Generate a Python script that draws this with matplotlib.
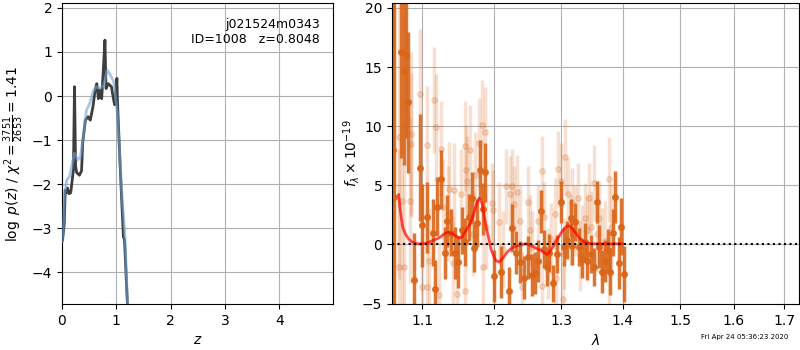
import numpy as np
import matplotlib
matplotlib.use('Agg')
import matplotlib.pyplot as plt
from matplotlib.ticker import FixedLocator, FixedFormatter, NullLocator

# redshift probability curves (left panel)
z_chi = [0.0, 0.01, 0.04, 0.06, 0.08, 0.10, 0.13, 0.16, 0.21, 0.23, 0.25, 0.27, 0.32, 0.36, 0.38,
         0.43, 0.48, 0.52, 0.57, 0.61, 0.64, 0.67, 0.70, 0.73, 0.76, 0.79, 0.81, 0.85, 0.91, 0.95,
         0.97, 1.01, 1.02, 1.07, 1.13, 1.15, 1.21]
logp_chi = [-3.3, -3.27, -2.93, -2.14, -2.2, -2.09, -2.22, -2.2, -1.68, 0.21, -1.6, -1.74, -1.8, -1.7, -1.07,
            -0.55, -0.47, -0.55, -0.24, 0.14, 0.28, -0.06, 0.14, -0.06, 0.59, 1.27, 0.17, 0.28, 0.21, -0.09,
            -0.2, 0.4, -0.1, -1.6, -3.2, -3.27, -4.9]
z_pz = [0.0, 0.02, 0.05, 0.09, 0.14, 0.19, 0.23, 0.29, 0.34, 0.39, 0.45, 0.51, 0.57, 0.63, 0.70,
        0.77, 0.83, 0.89, 0.95, 1.02, 1.10, 1.16, 1.21]
logp_pz = [-3.3, -3.1, -2.2, -1.9, -1.83, -1.53, -1.3, -1.45, -1.38, -0.92, -0.32, -0.17, 0.1, 0.21, 0.17,
           0.25, 0.59, 0.48, 0.33, -0.4, -2.2, -3.2, -4.9]

# spectrum, well-measured pixels (dark)
wave_hi = [1.062, 1.064, 1.0725, 1.076, 1.079, 1.082, 1.097, 1.090, 1.100, 1.107, 1.114, 1.120, 1.125,
           1.117, 1.131, 1.134, 1.139, 1.145, 1.148, 1.154, 1.158, 1.164, 1.168, 1.171, 1.175, 1.179,
           1.183, 1.186, 1.200, 1.209, 1.221, 1.225, 1.231, 1.238, 1.243, 1.249, 1.255, 1.260, 1.264,
           1.269, 1.273, 1.278, 1.281, 1.287, 1.293, 1.300, 1.304, 1.309, 1.315, 1.317, 1.322, 1.328,
           1.333, 1.338, 1.342, 1.347, 1.352, 1.357, 1.360, 1.366, 1.370, 1.375, 1.379, 1.384, 1.388,
           1.394, 1.398, 1.402]
flux_hi = [8.0, 4.0, 16.3, 14.7, 16.0, 12.0, 6.5, -3.0, 1.6, 2.3, 1.0, 3.2, 5.5,
           -3.8, -0.7, 2.0, 1.0, -0.7, -1.5, 1.2, 0.2, 2.3, 3.9, -0.3, 1.8, 6.3,
           3.0, 6.1, -2.7, -2.3, -3.9, 1.4, -0.7, -1.5, -2.8, -1.1, -2.6, -2.4, -1.4,
           2.8, -0.4, -1.9, -0.7, -3.3, -0.8, 3.6, -0.2, 0.4, 2.2, -0.1, 1.9, -0.2,
           -1.2, 0.2, -1.4, -0.8, -1.9, 3.6, -0.2, -2.3, -1.4, -0.5, -2.3, 1.0, 4.0,
           -1.6, 1.5, -2.5]
err_hi = [30.0, 30.0, 9.0, 8.0, 7.0, 6.0, 4.5, 4.0, 3.5, 3.0, 2.8, 2.5, 2.5,
          2.5, 2.2, 2.2, 2.0, 2.2, 2.2, 2.0, 2.0, 2.0, 2.2, 2.0, 2.0, 2.5,
          2.2, 2.5, 2.2, 2.2, 2.0, 2.0, 1.8, 1.8, 1.8, 1.8, 1.8, 1.8, 1.8,
          1.8, 1.6, 1.6, 1.6, 1.6, 1.6, 1.8, 1.6, 1.6, 1.6, 1.6, 1.6, 1.6,
          1.6, 1.6, 1.6, 1.6, 1.6, 1.8, 1.8, 1.8, 1.8, 1.8, 2.0, 2.0, 2.2,
          2.2, 2.4, 2.4]

# spectrum, noisy pixels (faint)
wave_lo = [1.070, 1.070, 1.074, 1.076, 1.084, 1.085, 1.086, 1.097, 1.100, 1.106, 1.107, 1.109, 1.116,
           1.119, 1.122, 1.125, 1.128, 1.135, 1.136, 1.142, 1.143, 1.147, 1.153, 1.158, 1.158, 1.160,
           1.161, 1.165, 1.169, 1.173, 1.178, 1.182, 1.183, 1.186, 1.188, 1.196, 1.198, 1.206, 1.213,
           1.217, 1.222, 1.225, 1.229, 1.233, 1.237, 1.240, 1.249, 1.252, 1.256, 1.264, 1.270, 1.270,
           1.274, 1.280, 1.285, 1.290, 1.292, 1.296, 1.300, 1.303, 1.304, 1.306, 1.311, 1.315, 1.318,
           1.322, 1.327, 1.330, 1.334, 1.338, 1.341, 1.345, 1.348, 1.352, 1.357, 1.361, 1.366, 1.371,
           1.377, 1.378, 1.380]
flux_lo = [9.1, -1.9, 3.7, -1.9, 3.7, 9.3, 8.5, 12.7, -3.6, 8.4, -3.6, -1.4, 12.2,
           9.9, -4.3, 8.1, 3.2, 2.6, 4.7, -1.6, 4.6, -4.2, 4.3, 8.3, -3.9, 6.3,
           5.4, 8.0, 0.9, 5.9, 8.6, 10.1, -1.9, 9.5, 1.5, 3.5, 2.9, 1.9, -0.4,
           4.9, 4.3, 4.9, 3.4, 4.4, 2.0, -3.6, 3.6, 1.2, -0.2, 2.0, 6.2, -3.5,
           2.3, -1.6, 0.5, 2.6, -2.8, 6.4, 5.4, -4.6, -0.8, 7.4, 4.3, 1.2, 3.5,
           2.0, 3.9, -0.9, 0.3, 2.2, 1.2, 3.9, 1.5, 5.2, 0.9, 2.2, -0.1, 0.3,
           -2.3, 5.5, 1.5]
err_lo = [12.0, 10.0, 9.0, 9.0, 7.0, 7.0, 6.0, 5.5, 5.0, 5.0, 5.0, 4.5, 4.5,
          4.5, 4.5, 4.0, 4.0, 4.0, 4.0, 4.0, 4.0, 4.0, 3.8, 3.8, 3.8, 3.8,
          3.8, 3.8, 3.6, 3.6, 3.8, 3.8, 3.6, 3.8, 3.6, 3.4, 3.4, 3.4, 3.2,
          3.2, 3.2, 3.2, 3.2, 3.2, 3.0, 3.0, 3.0, 3.0, 3.0, 3.0, 3.0, 3.0,
          3.0, 3.0, 3.0, 3.0, 3.0, 3.2, 3.2, 3.2, 3.0, 3.2, 3.0, 3.0, 3.0,
          3.0, 3.0, 3.0, 3.0, 3.0, 3.0, 3.0, 3.0, 3.2, 3.2, 3.2, 3.2, 3.4,
          3.4, 3.6, 3.6]

# best-fit model
wave_mod = [1.0695, 1.071, 1.073, 1.075, 1.078, 1.082, 1.086, 1.090, 1.095, 1.100, 1.106, 1.113,
            1.119, 1.124, 1.129, 1.133, 1.137, 1.141, 1.146, 1.151, 1.154, 1.157, 1.161, 1.165,
            1.169, 1.172, 1.175, 1.178, 1.180, 1.182, 1.185, 1.188, 1.192, 1.195, 1.199, 1.202,
            1.207, 1.213, 1.218, 1.223, 1.229, 1.235, 1.241, 1.247, 1.252, 1.257, 1.263, 1.269,
            1.274, 1.278, 1.281, 1.284, 1.288, 1.291, 1.296, 1.301, 1.306, 1.311, 1.315, 1.319,
            1.324, 1.330, 1.336, 1.343, 1.352, 1.361, 1.380, 1.400]
flux_mod = [4.2, 3.2, 2.2, 1.4, 0.9, 0.5, 0.25, 0.1, 0.05, 0.05, 0.1, 0.3,
            0.45, 0.6, 0.85, 1.0, 1.0, 0.9, 0.7, 0.55, 0.6, 0.9, 1.3, 1.7,
            2.3, 2.9, 3.5, 3.9, 3.8, 3.5, 2.6, 1.5, 0.5, -0.4, -1.0, -1.35,
            -1.5, -1.1, -0.7, -0.4, -0.2, -0.1, 0.0, 0.05, -0.05, -0.2, -0.35, -0.5,
            -0.7, -0.85, -0.75, -0.5, -0.15, 0.2, 0.6, 1.05, 1.4, 1.6, 1.5, 1.25,
            0.9, 0.5, 0.25, 0.1, 0.05, 0.05, 0.05, 0.05]

orange = '#d9661a'

fig = plt.figure(figsize=(8, 3.5), dpi=100)

# left: p(z)
ax1 = fig.add_axes([0.0775, 0.131, 0.339, 0.86])
ax1.plot(z_chi, logp_chi, color='#333333', lw=2, alpha=0.95, zorder=2)
ax1.plot(z_pz, logp_pz, color='#6fa3d3', lw=2, alpha=0.6, zorder=3)
ax1.set_xlim(0, 4.99)
ax1.set_ylim(-4.73, 2.11)
ax1.set_xticks([0, 1, 2, 3, 4])
ax1.set_yticks([-4, -3, -2, -1, 0, 1, 2])
ax1.grid(True, color='#b0b0b0', lw=0.8)
ax1.set_axisbelow(True)
ax1.set_xlabel(r'$z$')
ax1.set_ylabel(r'$\log\ p(z)$' + ' / ' + r'$\chi^2=\frac{3751}{2653}=1.41$')
ax1.text(0.95, 0.95, 'j021524m0343\nID=1008   z=0.8048', transform=ax1.transAxes,
         ha='right', va='top', fontsize=9, linespacing=1.2)

# right: spectrum
ax2 = fig.add_axes([0.49, 0.131, 0.509, 0.86])
ax2.errorbar(wave_lo, flux_lo, yerr=err_lo, fmt='o', color=orange, alpha=0.2,
             ms=4, elinewidth=2.5, capsize=0, zorder=1)
ax2.errorbar(wave_hi, flux_hi, yerr=err_hi, fmt='o', color=orange, alpha=0.9,
             ms=4, elinewidth=2.5, capsize=0, zorder=2)
ax2.plot(wave_mod, flux_mod, color='red', lw=2, alpha=0.7, zorder=4)
ax2.axhline(0, color='k', ls=':', lw=1.5, zorder=5)
ax2.set_xscale('log')
ax2.set_xlim(1.061, 1.731)
ax2.set_ylim(-5.05, 20.4)
xt = [1.1, 1.2, 1.3, 1.4, 1.5, 1.6, 1.7]
ax2.xaxis.set_major_locator(FixedLocator(xt))
ax2.xaxis.set_major_formatter(FixedFormatter(['%.1f' % v for v in xt]))
ax2.xaxis.set_minor_locator(NullLocator())
ax2.set_yticks([-5, 0, 5, 10, 15, 20])
ax2.grid(True, color='#b0b0b0', lw=0.8)
ax2.set_axisbelow(True)
ax2.set_xlabel(r'$\lambda$')
ax2.set_ylabel(r'$f_\lambda\times10^{-19}$', labelpad=0)

fig.text(0.876, 0.03, 'Fri Apr 24 05:36:23 2020', fontsize=5, ha='left', va='bottom')

fig.savefig('out.png', dpi=100)
